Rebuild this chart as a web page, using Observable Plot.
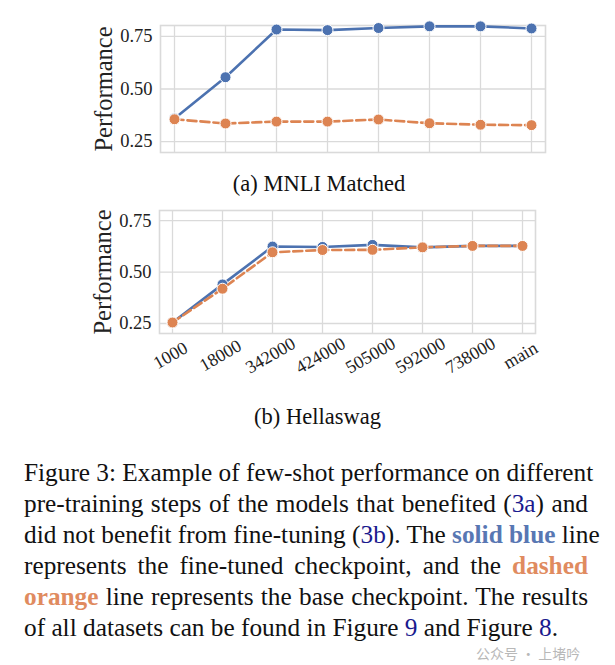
<!DOCTYPE html>
<html>
<head>
<meta charset="utf-8">
<script src="https://cdn.jsdelivr.net/npm/d3@7"></script>
<script src="https://cdn.jsdelivr.net/npm/@observablehq/plot@0.6"></script>
<style>
  html, body { margin: 0; padding: 0; background: #fff; }
  #wrap { position: relative; width: 615px; height: 665px; overflow: hidden; font-family: "Liberation Serif", "Times New Roman", serif; color: #111; }
  .abs { position: absolute; }
  #caption { position: absolute; left: 24px; top: 457px; width: 564px; font-size: 25.3px; line-height: 31px; }
  #caption .ln { text-align: justify; text-align-last: justify; white-space: nowrap; }
  #caption .last { text-align: left; text-align-last: left; white-space: nowrap; }
  .ref { color: #1a1a8e; }
  .blue { color: #5877b3; font-weight: bold; }
  .orange { color: #e08b5f; font-weight: bold; }
  #wm { position: absolute; left: 476px; top: 645px; font-family: "Noto Sans CJK SC", sans-serif; font-size: 14px; line-height: 16px; color: #b8b8b8; }
</style>
</head>
<body>
<div id="wrap">
  <div id="top" class="abs" style="left:0;top:0"></div>
  <div class="abs" style="left:93px;top:171px;width:452px;text-align:center;font-size:22.5px;">(a) MNLI Matched</div>
  <div id="bottom" class="abs" style="left:0;top:200px"></div>
  <div class="abs" style="left:93px;top:404px;width:449px;text-align:center;font-size:22.5px;">(b) Hellaswag</div>
  <div id="caption">
    <div class="ln">Figure 3: Example of few-shot performance on different</div>
    <div class="ln">pre-training steps of the models that benefited (<span class="ref">3a</span>) and</div>
    <div class="ln">did not benefit from fine-tuning (<span class="ref">3b</span>). The <span class="blue">solid blue</span> line</div>
    <div class="ln">represents the fine-tuned checkpoint, and the <span class="orange">dashed</span></div>
    <div class="ln"><span class="orange">orange</span> line represents the base checkpoint. The results</div>
    <div class="last">of all datasets can be found in Figure <span class="ref">9</span> and Figure <span class="ref">8</span>.</div>
  </div>
  <div id="wm">公众号 · 上堵吟</div>
</div>
<script>
const steps = ["1000", "18000", "342000", "424000", "505000", "592000", "738000", "main"];
const mnliFinetuned = [0.360, 0.556, 0.783, 0.780, 0.790, 0.798, 0.798, 0.788];
const mnliBase = [0.356, 0.336, 0.345, 0.345, 0.355, 0.337, 0.330, 0.328];
const hellaFinetuned = [0.255, 0.440, 0.624, 0.622, 0.632, 0.620, 0.627, 0.627];
const hellaBase = [0.255, 0.419, 0.596, 0.607, 0.608, 0.620, 0.627, 0.627];
const yTicks = [0.25, 0.50, 0.75];
const yLabel = "Performance";

const BLUE = "#4c72b0", ORANGE = "#dd8452", GRID = "#dadada";
const FONT = "Liberation Serif";

function rows(vals) { return steps.map((s, i) => ({step: s, v: vals[i]})); }

function panel({fine, base, height, mt, mb, ml, mr, inset, yDomain, showX}) {
  const marks = [
    Plot.gridX({stroke: GRID, strokeOpacity: 1, strokeWidth: 1.3}),
    Plot.gridY(yTicks, {stroke: GRID, strokeOpacity: 1, strokeWidth: 1.3}),
    Plot.frame({stroke: GRID, strokeWidth: 1.6}),
    Plot.axisY(yTicks, {tickSize: 0, tickPadding: 8, tickFormat: d3.format(".2f"), fontSize: 18.5, label: null, fill: "#222"}),
    Plot.text([yLabel], {frameAnchor: "left", dx: -56, rotate: -90, fontSize: 24.5, textAnchor: "middle", lineAnchor: "middle", fill: "#222"}),
    Plot.line(rows(fine), {x: "step", y: "v", stroke: BLUE, strokeWidth: 2.6}),
    Plot.dot(rows(fine), {x: "step", y: "v", r: 5.5, fill: BLUE, stroke: "white", strokeWidth: 1}),
    Plot.line(rows(base), {x: "step", y: "v", stroke: ORANGE, strokeWidth: 2.6, strokeDasharray: "9,4"}),
    Plot.dot(rows(base), {x: "step", y: "v", r: 5.5, fill: ORANGE, stroke: "white", strokeWidth: 1})
  ];
  if (showX) {
    marks.push(Plot.text(steps, {x: d => d, frameAnchor: "bottom", dy: 22, dx: -2, rotate: -30, textAnchor: "middle", lineAnchor: "middle", fontSize: 18, fill: "#222"}));
  }
  return Plot.plot({
    width: 615, height,
    marginTop: mt, marginBottom: mb, marginLeft: ml, marginRight: mr,
    style: {fontFamily: FONT, background: "transparent", overflow: "visible"},
    x: {type: "point", domain: steps, padding: 0, insetLeft: inset, insetRight: inset, axis: null},
    y: {domain: yDomain, axis: null},
    marks
  });
}

document.getElementById("top").appendChild(panel({
  fine: mnliFinetuned, base: mnliBase, height: 160, mt: 25, mb: 8, ml: 160, mr: 70, inset: 11,
  yDomain: [0.198, 0.802], showX: false
}));
document.getElementById("bottom").appendChild(panel({
  fine: hellaFinetuned, base: hellaBase, height: 180, mt: 10, mb: 47, ml: 159, mr: 80, inset: 10,
  yDomain: [0.2015, 0.799], showX: true
}));
</script>
</body>
</html>
